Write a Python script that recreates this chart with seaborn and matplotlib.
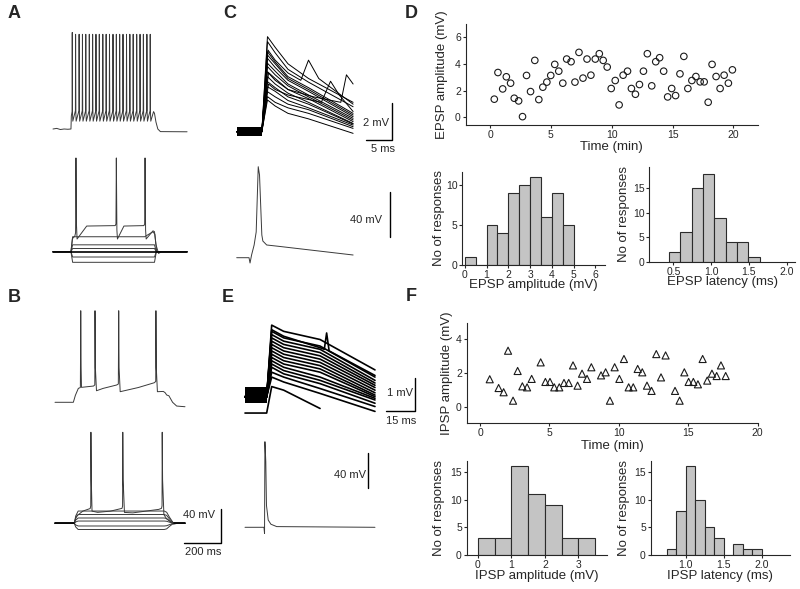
import matplotlib
matplotlib.use('Agg')
import numpy as np
import pandas as pd
import matplotlib.pyplot as plt
import seaborn as sns

# ---------------- D: EPSP amplitude over time ----------------
D_TIME = [0.35, 0.65, 1.04, 1.34, 1.69, 1.99, 2.35, 2.67, 3.0, 3.33,
          3.68, 4.01, 4.34, 4.67, 4.99, 5.32, 5.65, 5.98, 6.30, 6.66,
          6.98, 7.31, 7.64, 7.97, 8.29, 8.65, 8.98, 9.30, 9.63, 9.96,
          10.29, 10.61, 10.94, 11.30, 11.62, 11.95, 12.28, 12.61, 12.93, 13.29,
          13.62, 13.94, 14.27, 14.60, 14.93, 15.25, 15.61, 15.93, 16.26, 16.59,
          16.92, 17.27, 17.60, 17.93, 18.25, 18.58, 18.91, 19.24, 19.59, 19.92]
D_AMP = [1.36, 3.36, 2.13, 3.04, 2.56, 1.43, 1.23, 0.05, 3.14, 1.93,
         4.27, 1.33, 2.26, 2.64, 3.14, 3.97, 3.46, 2.56, 4.37, 4.17,
         2.64, 4.87, 2.94, 4.37, 3.16, 4.37, 4.77, 4.27, 3.77, 2.16,
         2.76, 0.93, 3.16, 3.46, 2.16, 1.73, 2.46, 3.46, 4.77, 2.36,
         4.17, 4.47, 3.46, 1.53, 2.16, 1.63, 3.26, 4.57, 2.16, 2.76,
         3.06, 2.66, 2.66, 1.13, 3.97, 3.06, 2.16, 3.16, 2.56, 3.56]

D_AMP_EDGES = [0, 0.5, 1.0, 1.5, 2.0, 2.5, 3.0, 3.5, 4.0, 4.5, 5.0]
D_AMP_COUNTS = [1, 0, 5, 4, 9, 10, 11, 6, 9, 5]
D_LAT_EDGES = [0.44, 0.59, 0.74, 0.89, 1.04, 1.19, 1.34, 1.49, 1.64]
D_LAT_COUNTS = [2, 6, 15, 18, 9, 4, 4, 1]

# ---------------- F: IPSP amplitude over time ----------------
F_TIME = [0.70, 1.34, 1.70, 2.02, 2.38, 2.71, 3.05, 3.39, 3.72, 4.37,
          4.71, 5.04, 5.35, 5.71, 6.05, 6.39, 6.70, 7.03, 7.35, 7.71,
          8.02, 8.72, 9.05, 9.36, 9.70, 10.04, 10.37, 10.71, 11.04, 11.36,
          11.69, 12.03, 12.36, 12.70, 13.04, 13.37, 14.05, 14.38, 14.72, 15.03,
          15.37, 15.70, 16.04, 16.37, 16.71, 17.05, 17.36, 17.70]
F_AMP = [1.62, 1.10, 0.85, 3.31, 0.35, 2.11, 1.20, 1.14, 1.64, 2.62,
         1.46, 1.46, 1.14, 1.14, 1.40, 1.40, 2.44, 1.24, 1.95, 1.64,
         2.33, 1.85, 2.03, 0.35, 2.33, 1.64, 2.82, 1.14, 1.14, 2.23,
         2.03, 1.24, 0.93, 3.11, 1.73, 3.03, 0.93, 0.35, 2.03, 1.46,
         1.46, 1.32, 2.82, 1.54, 1.95, 1.81, 2.44, 1.81]

F_AMP_EDGES = [0, 0.5, 1.0, 1.5, 2.0, 2.5, 3.0, 3.5]
F_AMP_COUNTS = [3, 3, 16, 11, 9, 3, 3]
F_LAT_EDGES = [0.75, 0.875, 1.0, 1.125, 1.25, 1.375, 1.5, 1.625, 1.75, 1.875, 2.0]
F_LAT_COUNTS = [1, 8, 16, 10, 5, 3, 0, 2, 1, 1]

# ---------------- A: firing traces (ms, mV) ----------------
A_TOP_SPIKES = [104, 122, 141, 159, 177, 196, 214, 232, 250, 269, 287, 305,
                324, 342, 360, 378, 397, 415, 433, 452, 470, 488, 507, 525]
A_TOP_PEAK_FIRST, A_TOP_PEAK = 41.0, 38.9
A_TOP_PRE_T = [0, 20, 40, 60, 80, 97, 99, 103]
A_TOP_PRE_V = [-70, -69.3, -70.6, -70, -70.3, -70, -55, -50]
A_TOP_POST_T = [528, 543, 548, 556, 566, 580, 724]
A_TOP_POST_V = [-61, -50, -52, -62, -70, -73, -73.2]

A_LEVELS = [-82.2, -76.1, -66.3, -62.1]
A_STEP_T = [0, 97, 106, 548, 558, 724]
A_SUB_T = [0, 97, 106, 495, 540, 550, 560, 724]
A_SUB_V = [-70, -70, -52.8, -52.8, -47, -50, -70, -70]
A_SPK_T = [0, 97, 105, 118, 122, 124, 127, 130, 182, 336, 340, 342, 345, 348,
           383, 491, 495, 497, 500, 503, 540, 548, 556, 570, 585, 724]
A_SPK_V = [-70, -70, -55, -52, -48, 37.8, -40, -55.4, -40.5, -40, -38, 37.8, -45,
           -55.4, -40.5, -40, -38, 37.8, -45, -55.4, -46, -47, -62, -72, -70, -70]

# ---------------- B ----------------
B_TOP_T = [0, 99, 110, 126, 137, 139, 141, 143, 208, 215, 216, 218, 224, 260,
           333, 342, 344, 346, 352, 450, 536, 544, 545, 547, 553, 585, 595, 603,
           615, 635, 657, 702]
B_TOP_V = [-70, -70, -62, -54, -53, 35.3, -30, -52.8, -51.3, -50, 35.3, -30,
           -56.7, -54, -50.1, -49, 35.3, -30, -57.8, -53, -47.5, -46, 35.3, -30,
           -57.8, -57.5, -59, -61.6, -62.5, -70, -74.3, -75.1]

B_LEVELS = [-55.9, -59.9, -63.9, -67.4, -73.1, -77.1]
B_STEP_T = [0, 104, 112, 125, 590, 603, 618, 640, 702]
B_STEP_FRAC = [0, 0, 0.6, 1, 1, 0.9, 0.5, 0, 0]
B_SPK_T = [0, 104, 115, 150, 190, 193, 194, 196, 200, 230, 300, 362, 365, 366,
           368, 375, 420, 560, 575, 578, 579, 581, 588, 603, 640, 660, 702]
B_SPK_V = [-70, -70, -62, -56, -53, -50, 34.7, -20, -56, -57.4, -56, -52.8, -50,
           34.7, -20, -57.5, -58, -54, -52.8, -50, 34.7, -20, -60, -65, -71, -70, -70]

# ---------------- C: EPSPs (ms, mV) ----------------
C_T = [0, 4.9, 6.0, 7.5, 10.0, 14.0, 22.7]
C_V = [[0, 0, 5.18, 4.6, 3.7, 2.9, 1.6],
       [0, 0, 4.91, 4.3, 3.4, 2.7, 1.36],
       [0, 0, 4.36, 3.8, 3.0, 2.4, 1.0],
       [0, 0, 4.18, 3.7, 2.9, 2.3, 0.91],
       [0, 0, 4.0, 3.5, 2.8, 2.2, 0.82],
       [0, 0, 3.73, 3.3, 2.6, 2.0, 0.73],
       [0, 0, 3.55, 3.1, 2.5, 1.9, 0.64],
       [0, 0, 3.27, 2.9, 2.3, 1.8, 0.55],
       [0, 0, 3.0, 2.6, 2.1, 1.6, 0.45],
       [0, 0, 2.73, 2.4, 1.9, 1.5, 0.42],
       [0, 0, 2.45, 2.2, 1.7, 1.3, 0.36],
       [0, 0, 2.18, 1.9, 1.5, 1.2, 0.27],
       [0, 0, 1.91, 1.6, 1.3, 1.0, 0.18],
       [0, 0, 1.73, 1.4, 1.0, 0.7, -0.09]]
C_EVT_T = [[0, 4.9, 6.1, 7.5, 10, 12.5, 14.0, 16, 22.7],
           [0, 4.9, 6.2, 7.5, 10, 16.5, 18.3, 20, 22.7],
           [0, 4.9, 6.2, 7.5, 10, 15, 20.3, 21.4, 22.7]]
C_EVT_V = [[0, 0, 4.45, 3.9, 3.2, 2.8, 3.9, 2.9, 1.5],
           [0, 0, 2.6, 2.3, 2.0, 1.6, 2.75, 2.0, 1.1],
           [0, 0, 3.2, 2.8, 2.3, 1.9, 1.6, 3.1, 2.6]]
C_AP_T = [0, 2.4, 2.6, 2.9, 3.4, 3.8, 4.2, 4.45, 4.9, 5.1, 5.85, 8.4, 22.7]
C_AP_V = [-70, -70, -74.7, -67.6, -58.7, -47.1, 10.9, 3.5, -49.8, -55.2, -58.7, -60, -67.6]

# ---------------- E: IPSPs (ms, mV) ----------------
E_T = [0, 11.2, 13.8, 20, 38.8, 67.2]
E_V = [[0, 0, 2.19, 2.0, 1.75, 0.82],
       [0, 0, 2.00, 1.8, 1.55, 0.60],
       [0, 0, 1.90, 1.7, 1.45, 0.50],
       [0, 0, 1.80, 1.6, 1.35, 0.42],
       [0, 0, 1.70, 1.5, 1.25, 0.35],
       [0, 0, 1.60, 1.4, 1.15, 0.28],
       [0, 0, 1.50, 1.3, 1.05, 0.20],
       [0, 0, 1.40, 1.2, 0.95, 0.12],
       [0, 0, 1.30, 1.1, 0.85, 0.05],
       [0, 0, 1.20, 1.0, 0.75, 0.00],
       [0, 0, 1.10, 0.9, 0.60, -0.05],
       [0, 0, 1.00, 0.8, 0.50, -0.10],
       [0, 0, 0.90, 0.7, 0.40, -0.20],
       [0, 0, 0.75, 0.6, 0.25, -0.30],
       [0, 0, 0.60, 0.45, 0.10, -0.45]]
E_EVT_T = [0, 11.2, 13.8, 20, 38.8, 41, 42.2, 43.5, 67.2]
E_EVT_V = [0, 0, 2.05, 1.85, 1.5, 1.45, 1.95, 1.4, 0.65]
E_LOW_T = [0, 11.2, 13.8, 20, 38.8]
E_LOW_V = [-0.5, -0.5, 0.31, 0.2, -0.36]
E_AP_T = [0, 9.8, 10.1, 10.3, 10.75, 11.1, 12.0, 13.4, 16.4, 67.2]
E_AP_V = [-70, -70, -77, 27.8, 5, -45, -61.7, -66.5, -69.2, -70]

# ---------------- figure ----------------
sns.set_style('ticks')
plt.rcParams['font.family'] = ['Liberation Sans', 'DejaVu Sans']

W, H = 800, 589
fig = plt.figure(figsize=(8, 5.89), dpi=100)


def px_axes(x0, y0, x1, y1):
    return fig.add_axes([x0 / W, 1 - y1 / H, (x1 - x0) / W, (y1 - y0) / H])


def trace_axes(box, anchor_px, anchor_val, ms_px, mv_px):
    x0, y0, x1, y1 = box
    ax = px_axes(*box)
    t0 = anchor_val[0] - (anchor_px[0] - x0) * ms_px
    vtop = anchor_val[1] + (anchor_px[1] - y0) * mv_px
    ax.set_xlim(t0, t0 + (x1 - x0) * ms_px)
    ax.set_ylim(vtop - (y1 - y0) * mv_px, vtop)
    ax.axis('off')
    return ax


GREY = '#3a3a3a'
TR = dict(color=GREY, lw=0.7, clip_on=False)
BAR_KW = dict(color='black', lw=1.0, clip_on=False)
SB_FONT = 8

# A top
ax = trace_axes((45, 25, 195, 140), (53, 129), (0, -70), 5.4, 1.15)
t, v = list(A_TOP_PRE_T), list(A_TOP_PRE_V)
for i, ts in enumerate(A_TOP_SPIKES):
    pk = A_TOP_PEAK_FIRST if i == 0 else A_TOP_PEAK
    t += [ts - 1, ts, ts + 1.5, ts + 3]
    v += [-49, pk, -52, -61]
t += A_TOP_POST_T
v += A_TOP_POST_V
ax.plot(t, v, **TR)

# A bottom
ax = trace_axes((45, 150, 195, 270), (53, 251.7), (0, -70), 5.4, 1.15)
for lvl in A_LEVELS:
    ax.plot(A_STEP_T, [-70, -70, lvl, lvl, -70, -70], **TR)
ax.plot(A_SUB_T, A_SUB_V, **TR)
ax.plot(A_SPK_T, A_SPK_V, **TR)
ax.plot([A_STEP_T[0], A_STEP_T[-1]], [-70, -70], color='black', lw=1.2, clip_on=False)

# B top
ax = trace_axes((45, 305, 195, 415), (55, 402.3), (0, -70), 5.4, 1.15)
ax.plot(B_TOP_T, B_TOP_V, **TR)

# B bottom
ax = trace_axes((45, 425, 230, 560), (55, 523.3), (0, -70), 5.4, 1.15)
for lvl in B_LEVELS:
    ax.plot(B_STEP_T, [-70 + f * (lvl + 70) for f in B_STEP_FRAC], **TR)
ax.plot(B_SPK_T, B_SPK_V, **TR)
ax.plot([B_STEP_T[0], B_STEP_T[1]], [-70, -70], color='black', lw=1.2, clip_on=False)
ax.plot([640, B_STEP_T[-1]], [-70, -70], color='black', lw=1.2, clip_on=False)
ax.plot([894.8, 894.8, 694.8], [-53, -93, -93], **BAR_KW)
ax.text(864, -60.5, '40 mV', ha='right', va='center', fontsize=SB_FONT)
ax.text(800, -102.7, '200 ms', ha='center', va='center', fontsize=SB_FONT)

# C top
ax = trace_axes((230, 30, 400, 150), (236.7, 131.7), (0, 0), 0.195, 0.0545)
for vals in C_V:
    ax.plot(C_T, vals, color='black', lw=0.7, clip_on=False)
for tt, vv in zip(C_EVT_T, C_EVT_V):
    ax.plot(tt, vv, color='black', lw=0.7, clip_on=False)
ax.fill_between([C_T[0], C_T[1]], -0.25, 0.25, color='black', lw=0)
ax.plot([30.3, 30.3, 25.3], [1.55, -0.45, -0.45], **BAR_KW)
ax.text(29.7, 0.49, '2 mV', ha='right', va='center', fontsize=SB_FONT)
ax.text(28.6, -0.96, '5 ms', ha='center', va='center', fontsize=SB_FONT)

# C bottom
ax = trace_axes((230, 160, 400, 270), (236.7, 257.7), (0, -70), 0.195, 0.889)
ax.plot(C_AP_T, C_AP_V, **TR)
ax.plot([29.9, 29.9], [-51.3, -11.3], **BAR_KW)
ax.text(28.3, -36.5, '40 mV', ha='right', va='center', fontsize=SB_FONT)

# E top
ax = trace_axes((240, 320, 420, 430), (245, 396.7), (0, 0), 0.517, 0.0306)
for vals in E_V:
    ax.plot(E_T, vals, color='black', lw=1.2, clip_on=False)
ax.plot(E_EVT_T, E_EVT_V, color='black', lw=1.2, clip_on=False)
ax.plot(E_LOW_T, E_LOW_V, color='black', lw=1.2, clip_on=False)
ax.fill_between([E_T[0], E_T[1]], -0.2, 0.3, color='black', lw=0)
ax.plot([87.9, 87.9, 72.9], [0.57, -0.43, -0.43], **BAR_KW)
ax.text(86.9, 0.11, '1 mV', ha='right', va='center', fontsize=SB_FONT)
ax.text(80.7, -0.74, '15 ms', ha='center', va='center', fontsize=SB_FONT)

# E bottom
ax = trace_axes((240, 435, 420, 540), (245, 527.3), (0, -70), 0.517, 1.143)
ax.plot(E_AP_T, E_AP_V, **TR)
ax.plot([63.7, 63.7], [-25.4, 14.6], **BAR_KW)
ax.text(62.6, -10.2, '40 mV', ha='right', va='center', fontsize=SB_FONT)


# ---------------- analysis panels ----------------
def style(ax, box, ylab_right, xlab_top, xlabel, ylabel):
    x0, y0, x1, y1 = box
    sns.despine(ax=ax)
    for sp in ('left', 'bottom'):
        ax.spines[sp].set_linewidth(0.8)
    ax.tick_params(direction='out', length=2.5, width=0.8, labelsize=7.5, pad=1)
    ax.set_xlabel(xlabel, fontsize=9.5)
    ax.set_ylabel(ylabel, fontsize=9.5)
    ax.yaxis.set_label_coords((ylab_right - x0) / (x1 - x0), 0.5)
    ax.xaxis.set_label_coords(0.5, (y1 - xlab_top) / (y1 - y0))
    ax.set_facecolor('none')


def hist(ax, edges, counts):
    lo, hi = np.asarray(edges[:-1]), np.asarray(edges[1:])
    df = pd.DataFrame({'x': (lo + hi) / 2, 'n': counts})
    sns.histplot(data=df, x='x', weights='n', bins=list(edges), ax=ax,
                 color='#c4c4c4', edgecolor='#2b2b2b', linewidth=0.8, alpha=1)


# D scatter
box = (465.7, 24, 757.7, 125.3)
ax = px_axes(*box)
sns.scatterplot(x=D_TIME, y=D_AMP, ax=ax, marker='o', s=22, facecolor='none',
                edgecolor='#1a1a1a', linewidth=0.8)
ax.set_xlim(-2, 22)
ax.set_ylim(-0.6, 7)
ax.set_xticks([0, 5, 10, 15, 20])
ax.set_yticks([0, 2, 4, 6])
style(ax, box, 448, 141, 'Time (min)', 'EPSP amplitude (mV)')

# D hist amplitude
box = (462.3, 172, 605, 265)
ax = px_axes(*box)
hist(ax, D_AMP_EDGES, D_AMP_COUNTS)
ax.set_xlim(-0.12, 6.45)
ax.set_ylim(0, 11.6)
ax.set_xticks([0, 1, 2, 3, 4, 5, 6])
ax.set_yticks([0, 5, 10])
style(ax, box, 445, 279, 'EPSP amplitude (mV)', 'No of responses')

# D hist latency
box = (649.3, 167.3, 795, 261.7)
ax = px_axes(*box)
hist(ax, D_LAT_EDGES, D_LAT_COUNTS)
ax.set_xlim(0.18, 2.11)
ax.set_ylim(0, 19.3)
ax.set_xticks([0.5, 1.0, 1.5, 2.0])
ax.set_yticks([0, 5, 10, 15])
style(ax, box, 630, 275.5, 'EPSP latency (ms)', 'No of responses')

# F scatter
box = (466.7, 322.7, 758.3, 423.3)
ax = px_axes(*box)
sns.scatterplot(x=F_TIME, y=F_AMP, ax=ax, marker='^', s=26, facecolor='none',
                edgecolor='#1a1a1a', linewidth=0.8)
ax.set_xlim(-0.96, 20.05)
ax.set_ylim(-0.99, 4.97)
ax.set_xticks([0, 5, 10, 15, 20])
ax.set_yticks([0, 2, 4])
style(ax, box, 453, 440.5, 'Time (min)', 'IPSP amplitude (mV)')

# F hist amplitude
box = (466.7, 460.7, 606.7, 555)
ax = px_axes(*box)
hist(ax, F_AMP_EDGES, F_AMP_COUNTS)
ax.set_xlim(-0.33, 3.84)
ax.set_ylim(0, 17)
ax.set_xticks([0, 1, 2, 3])
ax.set_yticks([0, 5, 10, 15])
style(ax, box, 445, 570.5, 'IPSP amplitude (mV)', 'No of responses')

# F hist latency
box = (650.7, 460.7, 790, 555)
ax = px_axes(*box)
hist(ax, F_LAT_EDGES, F_LAT_COUNTS)
ax.set_xlim(0.54, 2.37)
ax.set_ylim(0, 17)
ax.set_xticks([1.0, 1.5, 2.0])
ax.set_yticks([0, 5, 10, 15])
style(ax, box, 630, 570.5, 'IPSP latency (ms)', 'No of responses')

# panel letters
for letter, (px, py) in zip('ABCDEF', [(14, 13.5), (14, 297.5), (230, 14),
                                      (411.5, 13.7), (227.5, 297.5), (411, 296.5)]):
    fig.text(px / W, 1 - py / H, letter, fontsize=13, fontweight='bold',
             ha='center', va='center')

fig.savefig('out.png', dpi=100)
